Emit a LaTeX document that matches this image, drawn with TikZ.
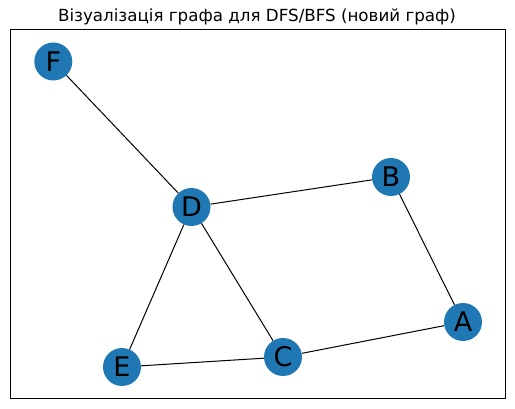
\documentclass[tikz,border=0pt]{standalone}
\usepackage{fontspec}
\setmainfont{DejaVu Sans}
\definecolor{nxblue}{HTML}{1F77B4}
\begin{document}
\begin{tikzpicture}[x=1pt,y=-1pt,
  vertex/.style={circle,fill=nxblue,draw=none,minimum size=38pt,inner sep=0pt,font=\fontsize{27}{30}\selectfont},
  edge/.style={line width=1pt,black}]
\useasboundingbox (0,0) rectangle (515,409);
\draw[line width=1.1pt] (10.5,29.5) rectangle (505.5,398.5);
\node[font=\fontsize{16.7}{20}\selectfont] (title) at (257,17) {Візуалізація графа для DFS/BFS (новий граф)};
\node[vertex] (F) at (53.3,61.5) {F};
\node[vertex] (D) at (191.5,207) {D};
\node[vertex] (B) at (391,177) {B};
\node[vertex] (A) at (463,322) {A};
\node[vertex] (C) at (283,357) {C};
\node[vertex] (E) at (122,367) {E};
\draw[edge] (F) -- (D);
\draw[edge] (D) -- (B);
\draw[edge] (B) -- (A);
\draw[edge] (A) -- (C);
\draw[edge] (C) -- (E);
\draw[edge] (D) -- (E);
\draw[edge] (D) -- (C);
\end{tikzpicture}
\end{document}
